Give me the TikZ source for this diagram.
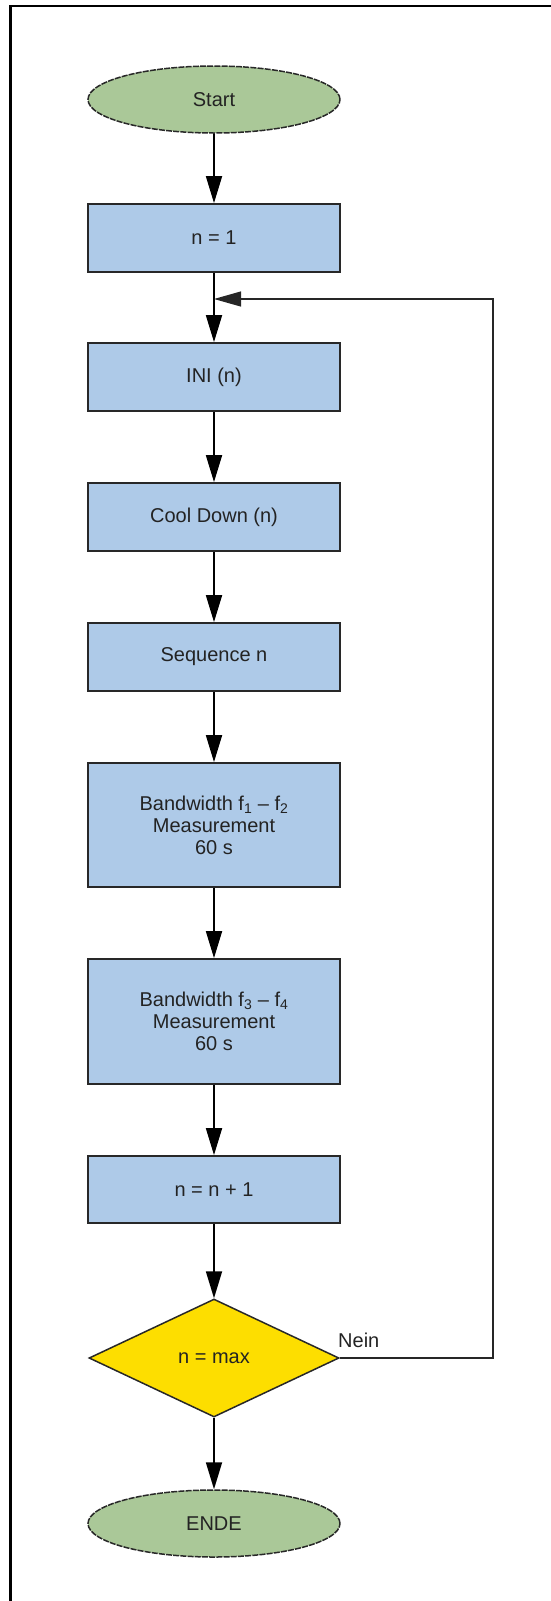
\documentclass[tikz,border=0pt]{standalone}
\usepackage{fontspec}
\setmainfont{Liberation Sans}
\usetikzlibrary{shapes.geometric,arrows.meta}
\definecolor{boxblue}{RGB}{174,202,232}
\definecolor{termgreen}{RGB}{170,200,152}
\definecolor{decyellow}{RGB}{253,222,0}
\definecolor{edge}{RGB}{40,40,40}
\definecolor{txt}{RGB}{35,35,35}
\begin{document}
\begin{tikzpicture}[x=1pt,y=-1pt,
  font=\fontsize{20}{22}\selectfont, text=txt,
  proc/.style={rectangle, draw=edge, line width=1.8pt, fill=boxblue,
    minimum width=252pt, minimum height=68pt, inner sep=0pt, align=center},
  term/.style={ellipse, draw=edge, line width=1.5pt, fill=termgreen,
    dash pattern=on 6pt off 1.2pt,
    minimum width=252pt, minimum height=67pt, inner sep=0pt},
  dec/.style={diamond, draw=edge, line width=1.5pt, fill=decyellow,
    minimum width=250pt, minimum height=118pt, inner sep=0pt, aspect=2.1},
  flow/.style={draw=black, line width=1.8pt, -{Triangle[length=27pt,width=16pt]}},
  back/.style={draw=black!85, line width=1.2pt, -{Triangle[length=27pt,width=15pt]}}]
\useasboundingbox (0,0) rectangle (551,1601);
% frame (left and top edges)
\draw[line width=2.2pt] (10.5,1601) -- (10.5,6) -- (551,6);

\node[term] (start) at (214,99.5) {Start};
\node[proc] (n1) at (214,238) {n = 1};
\node[proc] (ini) at (214,377) {INI (n)};
\node[proc] (cool) at (214,517) {Cool Down (n)};
\node[proc] (seq) at (214,657) {Sequence n};
\node[proc, minimum height=124pt] (bw1) at (214,825)
  {Bandwidth f\textsubscript{1} – f\textsubscript{2}\\Measurement\\60 s};
\node[proc, minimum height=125pt] (bw2) at (214,1021.5)
  {Bandwidth f\textsubscript{3} – f\textsubscript{4}\\Measurement\\60 s};
\node[proc, minimum height=67pt] (inc) at (214,1189.5) {n = n + 1};
\node[dec] (chk) at (214,1358) {n = max};
\node[term] (end) at (214,1523.5) {ENDE};
\node[anchor=base west, inner sep=0pt] (nein) at (338,1347) {Nein};

\coordinate (join) at (214,299);
\coordinate (cornerB) at (493,1358);
\coordinate (cornerT) at (493,299);

\draw[flow] (start) -- (n1);
\draw[flow] (n1) -- (ini);
\draw[flow] (ini) -- (cool);
\draw[flow] (cool) -- (seq);
\draw[flow] (seq) -- (bw1);
\draw[flow] (bw1) -- (bw2);
\draw[flow] (bw2) -- (inc);
\draw[flow] (inc) -- (chk);
\draw[flow] (chk) -- (end);
\draw[back] (chk.east) -- (cornerB) -- (cornerT) -- (join);
\end{tikzpicture}
\end{document}
